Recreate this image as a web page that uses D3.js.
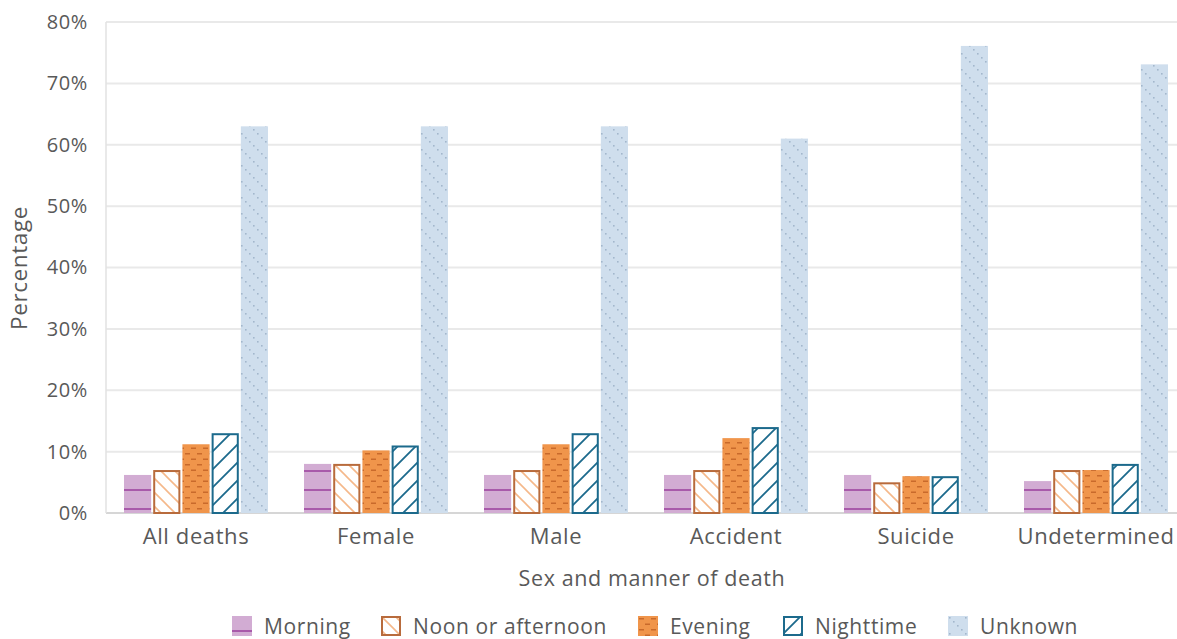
<!DOCTYPE html>
<html>
<head>
<meta charset="utf-8">
<script src="https://cdn.jsdelivr.net/npm/d3@7"></script>
<style>
  html, body { margin: 0; padding: 0; background: #fff; }
  svg { display: block; font-family: "Open Sans", Lato, sans-serif; }
  svg text { font-family: "Open Sans", Lato, sans-serif; letter-spacing: 0.6px; }
</style>
</head>
<body>
<svg id="chart" width="1177" height="639"></svg>
<script>
const categories = ["All deaths", "Female", "Male", "Accident", "Suicide", "Undetermined"];
const seriesNames = ["Morning", "Noon or afternoon", "Evening", "Nighttime", "Unknown"];
const morning   = [6.2, 8, 6.2, 6.2, 6.2, 5.2];
const noon      = [7, 8, 7, 7, 5, 7];
const evening   = [11.2, 10.2, 11.2, 12.2, 6, 7];
const nighttime = [13, 11, 13, 14, 6, 8];
const unknown   = [63, 63, 63, 61, 76.1, 73.1];
const yTicks = [0, 10, 20, 30, 40, 50, 60, 70, 80];

const seriesValues = [morning, noon, evening, nighttime, unknown];
const patternIds = ["pMorning", "pNoon", "pEvening", "pNight", "pUnknown"];
const outlineColors = [null, "#b86b3c", null, "#1c6a8c", null];

const svg = d3.select("#chart");
const textColor = "#595959";
const plotLeft = 106, plotRight = 1186, plotTop = 22, plotBottom = 513;

const x0 = d3.scaleBand().domain(categories).range([plotLeft, plotRight]).paddingInner(0.2).paddingOuter(0.1);
const x1 = d3.scaleBand().domain(seriesNames).range([0, x0.bandwidth()]).paddingInner(0.07);
const y = d3.scaleLinear().domain([0, 80]).range([plotBottom, plotTop]);

// Patterns
const defs = svg.append("defs");
let p = defs.append("pattern").attr("id", "pMorning").attr("patternUnits", "userSpaceOnUse")
  .attr("width", 40).attr("height", 19).attr("y", 14);
p.append("rect").attr("width", 40).attr("height", 19).attr("fill", "#d2acd3");
p.append("rect").attr("y", 0).attr("width", 40).attr("height", 2).attr("fill", "#a85aaa");

p = defs.append("pattern").attr("id", "pNoon").attr("patternUnits", "userSpaceOnUse")
  .attr("width", 14).attr("height", 14);
p.append("rect").attr("width", 14).attr("height", 14).attr("fill", "#fff");
p.append("path").attr("d", "M-2,-2 L16,16 M-2,12 L2,16 M12,-2 L16,2")
  .attr("stroke", "#f5b88a").attr("stroke-width", 1.6);

p = defs.append("pattern").attr("id", "pEvening").attr("patternUnits", "userSpaceOnUse")
  .attr("width", 12).attr("height", 11);
p.append("rect").attr("width", 12).attr("height", 11).attr("fill", "#f0954b");
p.append("rect").attr("x", 1).attr("y", 2).attr("width", 5).attr("height", 1.5).attr("fill", "#c96a2b");
p.append("rect").attr("x", 7).attr("y", 7.5).attr("width", 5).attr("height", 1.5).attr("fill", "#c96a2b");

p = defs.append("pattern").attr("id", "pNight").attr("patternUnits", "userSpaceOnUse")
  .attr("width", 18).attr("height", 18);
p.append("rect").attr("width", 18).attr("height", 18).attr("fill", "#fff");
p.append("path").attr("d", "M-2,20 L20,-2 M-2,2 L2,-2 M16,20 L20,16")
  .attr("stroke", "#1c6a8c").attr("stroke-width", 1.8);

p = defs.append("pattern").attr("id", "pUnknown").attr("patternUnits", "userSpaceOnUse")
  .attr("width", 16).attr("height", 16);
p.append("rect").attr("width", 16).attr("height", 16).attr("fill", "#cfdeed");
[[1,1],[5,5],[9,9],[13,13]].forEach(([a, b]) =>
  p.append("rect").attr("x", a).attr("y", b).attr("width", 1.6).attr("height", 1.6).attr("fill", "#a3b7cc"));

// Gridlines
svg.append("g").selectAll("line").data(yTicks).join("line")
  .attr("x1", plotLeft).attr("x2", 1177)
  .attr("y1", d => y(d)).attr("y2", d => y(d))
  .attr("stroke", d => d === 0 ? "#d6d6d6" : "#e9e9e9").attr("stroke-width", 2);
svg.append("line").attr("x1", plotLeft).attr("x2", plotLeft).attr("y1", plotTop).attr("y2", plotBottom)
  .attr("stroke", "#e2e2e2").attr("stroke-width", 1.5);

// Y axis labels
const yAxis = d3.axisLeft(y).tickValues(yTicks).tickFormat(d => d + "%").tickSize(0).tickPadding(18);
const gy = svg.append("g").attr("transform", `translate(${plotLeft},0)`).call(yAxis);
gy.select(".domain").remove();
gy.selectAll("text").attr("fill", textColor).style("font-size", "20px").style("font-family", null);

// X axis labels
const xAxis = d3.axisBottom(x0).tickSize(0).tickPadding(15);
const gx = svg.append("g").attr("transform", `translate(0,${plotBottom})`).call(xAxis);
gx.select(".domain").remove();
gx.selectAll("text").attr("fill", textColor).style("font-size", "22px").style("font-family", null);

// Bars
const groups = svg.append("g").selectAll("g").data(categories).join("g")
  .attr("transform", d => `translate(${x0(d)},0)`);
groups.selectAll("rect").data((c, ci) => seriesNames.map((s, si) => ({s, si, v: seriesValues[si][ci]})))
  .join("rect")
  .attr("x", d => x1(d.s) + (outlineColors[d.si] ? 1 : 0))
  .attr("width", d => x1.bandwidth() - (outlineColors[d.si] ? 2 : 0))
  .attr("y", d => y(d.v) + (outlineColors[d.si] ? 1 : 0))
  .attr("height", d => y(0) - y(d.v) - (outlineColors[d.si] ? 1 : 0))
  .attr("fill", d => `url(#${patternIds[d.si]})`)
  .attr("stroke", d => outlineColors[d.si] || "none")
  .attr("stroke-width", 2);

// Axis titles
svg.append("text").attr("x", 652).attr("y", 586).attr("text-anchor", "middle")
  .attr("fill", textColor).style("font-size", "21.5px").text("Sex and manner of death");
svg.append("text").attr("transform", "translate(27,268) rotate(-90)").attr("text-anchor", "middle")
  .attr("fill", textColor).style("font-size", "22.5px").text("Percentage");

// Legend
const legendX = [232, 381, 638, 783, 948];
const lg = svg.append("g").selectAll("g").data(seriesNames).join("g")
  .attr("transform", (d, i) => `translate(${legendX[i]},616)`);
lg.append("rect")
  .attr("x", (d, i) => outlineColors[i] ? 1 : 0).attr("y", (d, i) => outlineColors[i] ? 1 : 0)
  .attr("width", (d, i) => outlineColors[i] ? 18 : 20).attr("height", (d, i) => outlineColors[i] ? 18 : 20)
  .attr("fill", (d, i) => `url(#${patternIds[i]})`)
  .attr("stroke", (d, i) => outlineColors[i] || "none").attr("stroke-width", 2);
lg.append("text").attr("x", 32).attr("y", 18).attr("fill", textColor)
  .style("font-size", "21px").text(d => d);
</script>
</body>
</html>
